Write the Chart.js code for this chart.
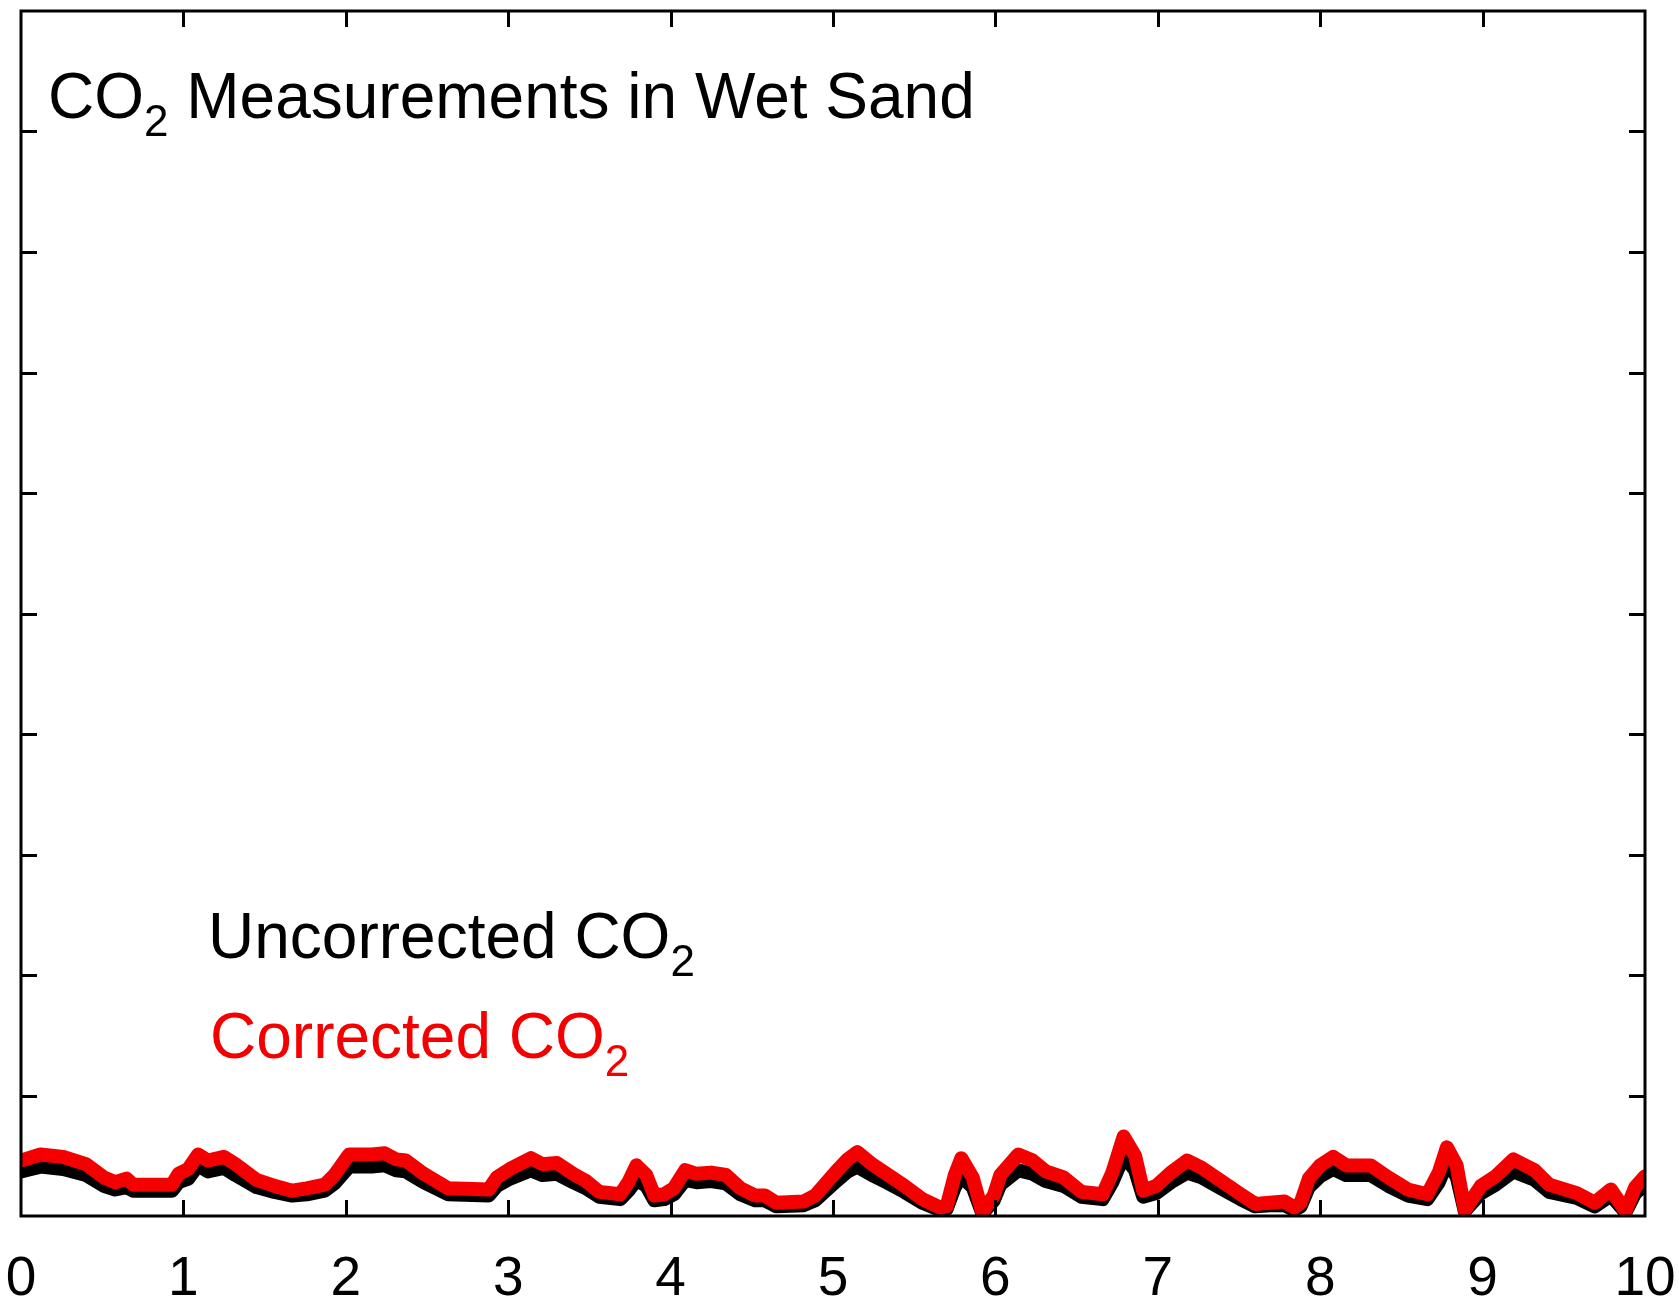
<!DOCTYPE html>
<html>
<head>
<meta charset="utf-8">
<script src="https://cdn.jsdelivr.net/npm/chart.js@4/dist/chart.umd.min.js"></script>
<style>
  html, body { margin: 0; padding: 0; background: #ffffff; }
  canvas { display: block; }
</style>
</head>
<body>
<canvas id="co2" width="1679" height="1305"></canvas>
<script>
// Elapsed time (x) shared by both traces
const timeX = [
  0.00, 0.12, 0.26, 0.40, 0.51, 0.58, 0.65, 0.69, 0.93, 0.97,
  1.03, 1.09, 1.15, 1.25, 1.32, 1.45, 1.56, 1.67, 1.76, 1.87,
  1.93, 2.02, 2.16, 2.24, 2.31, 2.37, 2.48, 2.63, 2.88, 2.93,
  3.01, 3.14, 3.21, 3.30, 3.40, 3.48, 3.56, 3.69, 3.74, 3.79,
  3.85, 3.90, 3.96, 4.02, 4.09, 4.16, 4.25, 4.34, 4.43, 4.52,
  4.58, 4.65, 4.82, 4.89, 5.02, 5.09, 5.15, 5.24, 5.33, 5.44,
  5.55, 5.66, 5.70, 5.75, 5.79, 5.86, 5.92, 5.99, 6.03, 6.14,
  6.23, 6.31, 6.42, 6.53, 6.66, 6.72, 6.79, 6.86, 6.91, 6.99,
  7.08, 7.18, 7.27, 7.39, 7.51, 7.60, 7.69, 7.78, 7.84, 7.88,
  7.93, 8.00, 8.08, 8.16, 8.31, 8.42, 8.54, 8.66, 8.73, 8.78,
  8.84, 8.89, 8.99, 9.08, 9.19, 9.32, 9.41, 9.58, 9.69, 9.79,
  9.88, 9.94, 10.00
];

// Corrected CO2 (red trace)
const correctedCO2 = [
  0.46, 0.51, 0.49, 0.43, 0.32, 0.28, 0.31, 0.26, 0.26, 0.35,
  0.39, 0.51, 0.46, 0.49, 0.43, 0.30, 0.25, 0.21, 0.23, 0.26,
  0.34, 0.51, 0.51, 0.52, 0.47, 0.46, 0.35, 0.23, 0.22, 0.32,
  0.39, 0.48, 0.43, 0.44, 0.35, 0.29, 0.20, 0.18, 0.28, 0.42,
  0.34, 0.17, 0.18, 0.23, 0.38, 0.35, 0.36, 0.34, 0.23, 0.17,
  0.17, 0.11, 0.12, 0.17, 0.37, 0.47, 0.53, 0.43, 0.35, 0.25,
  0.14, 0.07, 0.08, 0.34, 0.48, 0.32, 0.03, 0.17, 0.34, 0.51,
  0.46, 0.37, 0.32, 0.20, 0.18, 0.36, 0.66, 0.50, 0.21, 0.25,
  0.36, 0.46, 0.40, 0.29, 0.18, 0.10, 0.11, 0.12, 0.07, 0.11,
  0.31, 0.42, 0.49, 0.42, 0.42, 0.32, 0.22, 0.18, 0.36, 0.57,
  0.42, 0.05, 0.25, 0.33, 0.47, 0.38, 0.26, 0.19, 0.11, 0.22,
  0.04, 0.24, 0.33
];

// Uncorrected CO2 (black trace)
const uncorrectedCO2 = [
  0.37, 0.41, 0.39, 0.34, 0.25, 0.22, 0.24, 0.21, 0.21, 0.28,
  0.31, 0.42, 0.37, 0.40, 0.34, 0.24, 0.20, 0.17, 0.18, 0.21,
  0.27, 0.41, 0.41, 0.42, 0.38, 0.37, 0.28, 0.18, 0.17, 0.25,
  0.31, 0.38, 0.34, 0.35, 0.28, 0.23, 0.16, 0.14, 0.21, 0.30,
  0.25, 0.13, 0.14, 0.18, 0.30, 0.28, 0.29, 0.27, 0.18, 0.13,
  0.13, 0.08, 0.09, 0.13, 0.29, 0.37, 0.41, 0.34, 0.28, 0.20,
  0.11, 0.05, 0.06, 0.24, 0.33, 0.24, 0.02, 0.13, 0.26, 0.38,
  0.35, 0.29, 0.25, 0.16, 0.14, 0.28, 0.50, 0.38, 0.16, 0.19,
  0.28, 0.36, 0.32, 0.23, 0.14, 0.08, 0.09, 0.09, 0.05, 0.08,
  0.24, 0.33, 0.39, 0.34, 0.34, 0.25, 0.17, 0.14, 0.28, 0.44,
  0.33, 0.04, 0.19, 0.26, 0.37, 0.30, 0.20, 0.15, 0.08, 0.17,
  0.03, 0.19, 0.26
];

const xRange = [0, 10];
const yRange = [0, 10];

const FONT = "'Liberation Sans', Arial, Helvetica, sans-serif";
const RED = '#f40000';
const BLACK = '#000000';

// Text pieces: [text, isSubscript]
const titleParts = [['CO', false], ['2', true], [' Measurements in Wet Sand', false]];
const uncorrectedLabel = [['Uncorrected CO', false], ['2', true]];
const correctedLabel = [['Corrected CO', false], ['2', true]];

function toPoints(xs, ys) {
  return xs.map((x, i) => ({ x: x, y: ys[i] }));
}

function drawChemText(ctx, parts, x, baseline, color) {
  ctx.save();
  ctx.fillStyle = color;
  ctx.textBaseline = 'alphabetic';
  ctx.textAlign = 'left';
  let cx = x;
  for (const [txt, sub] of parts) {
    ctx.font = (sub ? '44px ' : '64px ') + FONT;
    ctx.fillText(txt, cx, sub ? baseline + 18 : baseline);
    cx += ctx.measureText(txt).width;
  }
  ctx.restore();
}

// Box around the plot area with inward tick marks on all four sides
const framePlugin = {
  id: 'frame',
  afterDatasetsDraw(chart) {
    const { ctx, chartArea: a, scales } = chart;
    const tickLen = 16;
    ctx.save();
    ctx.strokeStyle = BLACK;
    ctx.lineWidth = 3;
    ctx.lineCap = 'butt';
    ctx.beginPath();
    for (const t of scales.x.ticks) {
      if (t.value <= xRange[0] || t.value >= xRange[1]) continue;
      const px = Math.round(scales.x.getPixelForValue(t.value)) + 0.5;
      ctx.moveTo(px, a.bottom); ctx.lineTo(px, a.bottom - tickLen);
      ctx.moveTo(px, a.top); ctx.lineTo(px, a.top + tickLen);
    }
    for (const t of scales.y.ticks) {
      if (t.value <= yRange[0] || t.value >= yRange[1]) continue;
      const py = Math.round(scales.y.getPixelForValue(t.value)) + 0.5;
      ctx.moveTo(a.left, py); ctx.lineTo(a.left + tickLen, py);
      ctx.moveTo(a.right, py); ctx.lineTo(a.right - tickLen, py);
    }
    ctx.stroke();
    ctx.lineJoin = 'miter';
    ctx.strokeRect(a.left, a.top, a.right - a.left, a.bottom - a.top);
    ctx.restore();
  },
  afterDraw(chart) {
    const ctx = chart.ctx;
    drawChemText(ctx, titleParts, 48, 118, BLACK);
    drawChemText(ctx, uncorrectedLabel, 208, 958, BLACK);
    drawChemText(ctx, correctedLabel, 210, 1058, RED);
  }
};

new Chart(document.getElementById('co2'), {
  type: 'line',
  data: {
    datasets: [
      {
        label: 'Corrected CO2',
        data: toPoints(timeX, correctedCO2),
        borderColor: RED,
        borderWidth: 14,
        pointRadius: 0,
        tension: 0,
        borderJoinStyle: 'round',
        borderCapStyle: 'round',
        clip: 0,
        order: 0
      },
      {
        label: 'Uncorrected CO2',
        data: toPoints(timeX, uncorrectedCO2),
        borderColor: BLACK,
        borderWidth: 14,
        pointRadius: 0,
        tension: 0,
        borderJoinStyle: 'round',
        borderCapStyle: 'round',
        clip: 0,
        order: 1
      }
    ]
  },
  options: {
    responsive: false,
    animation: false,
    devicePixelRatio: 1,
    layout: { padding: { left: 21, top: 11, right: 34, bottom: 0 } },
    plugins: {
      legend: { display: false },
      tooltip: { enabled: false },
      title: { display: false }
    },
    scales: {
      x: {
        type: 'linear',
        min: xRange[0],
        max: xRange[1],
        offset: false,
        grid: { display: false, drawTicks: false },
        border: { display: false },
        ticks: {
          stepSize: 1,
          color: BLACK,
          padding: 31,
          maxRotation: 0,
          autoSkip: false,
          font: { family: FONT, size: 55 }
        },
        afterFit(scale) {
          scale.height = 89;
          scale.paddingLeft = 0;
          scale.paddingRight = 0;
        }
      },
      y: {
        type: 'linear',
        min: yRange[0],
        max: yRange[1],
        display: false,
        ticks: { stepSize: 1 }
      }
    }
  },
  plugins: [framePlugin]
});
</script>
</body>
</html>
